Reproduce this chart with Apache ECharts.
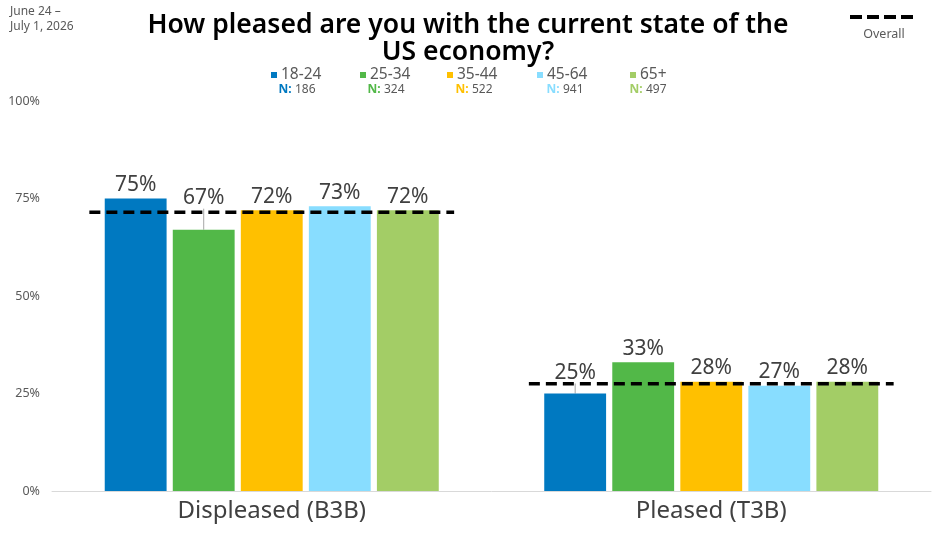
<!DOCTYPE html>
<html>
<head>
<meta charset="utf-8">
<script src="https://cdn.jsdelivr.net/npm/echarts@6/dist/echarts.min.js"></script>
<style>
    html, body { margin: 0; padding: 0; background: #fff; }
    #main { width: 936px; height: 538px; }
</style>
</head>
<body>
<div id="main"></div>
<script>
// chart data
const categories = ['Displeased (B3B)', 'Pleased (T3B)']
const groups = ['18-24', '25-34', '35-44', '45-64', '65+']
const sampleN = [186, 324, 522, 941, 497]
const displeased = [75, 67, 72, 73, 72]
const pleased = [25, 33, 28, 27, 28]
const overall = [71.5, 27.5]
const yTicks = [0, 25, 50, 75, 100]

const colors = ['#0079C1', '#52B848', '#FFC000', '#88DDFF', '#A3CD66']
const font = 'Noto Sans'

// labels pushed up above the overall line (series-category -> px)
const labelLift = { '1-0': 18, '0-1': 7 }

// legend placement
const legendLeft = [271, 360, 447, 537, 630]
const legendMid = [297, 386, 474, 565, 648]

const chart = echarts.init(document.getElementById('main'))

const barSeries = groups.map((g, i) => ({
    name: g,
    type: 'bar',
    barGap: '10%',
    barCategoryGap: '24%',
    itemStyle: { color: colors[i] },
    label: {
        show: true,
        position: 'top',
        distance: 3,
        formatter: '{c}%',
        fontFamily: font,
        fontSize: 21,
        color: '#404040'
    },
    labelLayout: (params) => {
        const lift = labelLift[params.seriesIndex + '-' + params.dataIndex]
        return lift ? { dy: -lift } : {}
    },
    data: [displeased[i], pleased[i]].map((v, j) => ({
        value: v,
        labelLine: {
            show: !!labelLift[i + '-' + j],
            lineStyle: { color: '#a6a6a6', width: 1 }
        }
    }))
}))

const overallSeries = {
    name: 'Overall',
    type: 'custom',
    z: 10,
    silent: true,
    renderItem: (params, api) => {
        const c = api.coord([api.value(0), api.value(1)])
        const w = api.size([1, 0])[0] * 0.83
        return {
            type: 'line',
            shape: { x1: c[0] - w / 2, y1: c[1], x2: c[0] + w / 2, y2: c[1] },
            style: { stroke: '#000', lineWidth: 3.5, lineDash: [11, 6] }
        }
    },
    data: overall.map((v, i) => [i, v])
}

const legends = groups.map((g, i) => ({
    data: [g],
    left: legendLeft[i],
    top: 67,
    padding: 0,
    icon: 'rect',
    itemWidth: 6,
    itemHeight: 6,
    itemGap: 5,
    selectedMode: false,
    textStyle: { fontFamily: font, fontSize: 15.5, color: '#595959', padding: [0, 0, 0, -1] }
}))

const nLabels = sampleN.map((n, i) => ({
    type: 'text',
    x: legendMid[i],
    y: 90,
    style: {
        text: '{k|N:} {v|' + n + '}',
        align: 'center',
        verticalAlign: 'middle',
        rich: {
            k: { fill: colors[i], fontWeight: 'bold', fontFamily: font, fontSize: 12 },
            v: { fill: '#595959', fontFamily: font, fontSize: 12 }
        }
    }
}))

chart.setOption({
    animation: false,
    title: {
        text: 'How pleased are you with the current state of the\nUS economy?',
        left: 'center',
        top: 7,
        textStyle: {
            fontFamily: font,
            fontSize: 26.5,
            fontWeight: 600,
            color: '#000',
            lineHeight: 27
        }
    },
    legend: legends,
    grid: { left: 52, right: 5, top: 101, bottom: 47 },
    xAxis: {
        type: 'category',
        data: categories,
        axisLine: { lineStyle: { color: '#d9d9d9', width: 1 } },
        axisTick: { show: false },
        axisLabel: { fontFamily: font, fontSize: 24, color: '#404040', margin: 8 }
    },
    yAxis: {
        type: 'value',
        min: yTicks[0],
        max: yTicks[yTicks.length - 1],
        interval: 25,
        splitLine: { show: false },
        axisLine: { show: false },
        axisTick: { show: false },
        axisLabel: { formatter: '{value}%', fontFamily: font, fontSize: 12.5, color: '#595959', margin: 12 }
    },
    graphic: [
        {
            type: 'text',
            left: 10,
            top: 4,
            style: {
                text: 'June 24 –\nJuly 1, 2026',
                fontFamily: font,
                fontSize: 12,
                lineHeight: 15,
                fill: '#595959'
            }
        },
        {
            type: 'line',
            shape: { x1: 850, y1: 17, x2: 918, y2: 17 },
            style: { stroke: '#000', lineWidth: 4, lineDash: [12, 5] }
        },
        {
            type: 'text',
            x: 884,
            y: 34,
            style: {
                text: 'Overall',
                align: 'center',
                verticalAlign: 'middle',
                fontFamily: font,
                fontSize: 12.5,
                fill: '#595959'
            }
        },
        ...nLabels
    ],
    series: [...barSeries, overallSeries]
})
</script>
</body>
</html>
